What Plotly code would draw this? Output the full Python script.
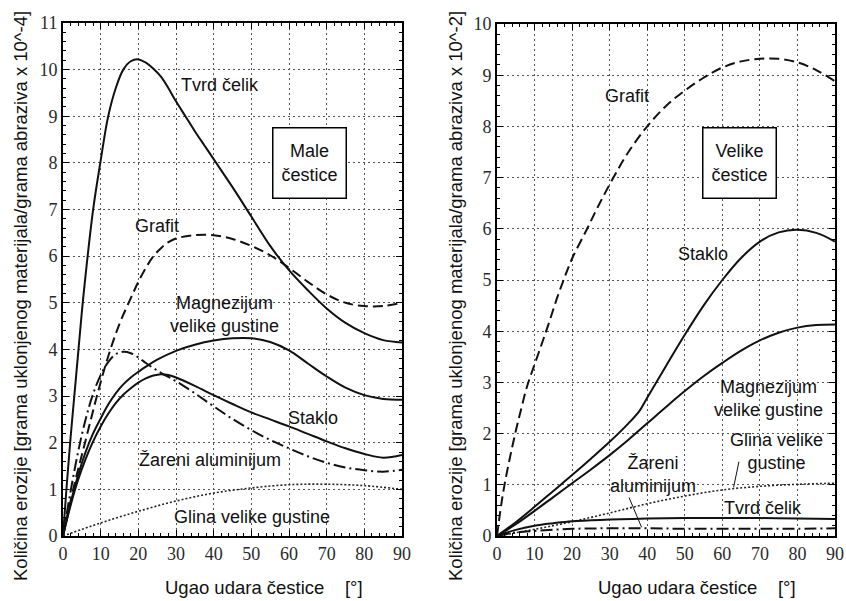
import plotly.graph_objects as go

# ---------------- data: left panel (small particles, x 10^-4) ----------------
L_tvrd_x = [0, 1, 2, 3, 4, 5, 6, 8, 10, 12, 14, 16, 18, 20, 22, 24, 26, 28, 30, 32.5, 35, 37.5, 40, 45, 50, 55, 60, 65, 70, 75, 80, 85, 90]
L_tvrd_y = [0, 1.1, 2.1, 3.0, 3.9, 4.8, 5.6, 7.0, 8.05, 9.0, 9.6, 10.0, 10.18, 10.22, 10.15, 10.02, 9.85, 9.6, 9.32, 9.0, 8.68, 8.38, 8.08, 7.48, 6.85, 6.22, 5.7, 5.27, 4.88, 4.57, 4.35, 4.2, 4.15]

L_grafit_x = [0, 3, 6, 9, 12, 15, 18, 20, 22, 24, 26, 28, 30, 35, 40, 45, 50, 55, 60, 65, 70, 75, 80, 85, 90]
L_grafit_y = [0, 1.1, 2.05, 3.0, 3.85, 4.55, 5.1, 5.45, 5.75, 6.0, 6.17, 6.3, 6.38, 6.45, 6.45, 6.37, 6.22, 6.02, 5.75, 5.45, 5.18, 5.0, 4.93, 4.93, 5.0]

L_mag_x = [0, 2, 4, 6, 8, 10, 12, 14, 16, 18, 20, 22, 25, 30, 35, 40, 45, 50, 55, 60, 65, 70, 75, 80, 85, 90]
L_mag_y = [0, 0.7, 1.3, 1.8, 2.2, 2.52, 2.82, 3.06, 3.25, 3.4, 3.52, 3.63, 3.78, 3.97, 4.1, 4.19, 4.24, 4.24, 4.16, 3.98, 3.7, 3.42, 3.18, 3.02, 2.94, 2.92]

L_staklo_x = [0, 2, 4, 6, 8, 10, 12, 14, 16, 18, 20, 22, 24, 26, 28, 30, 35, 40, 45, 50, 55, 60, 65, 70, 75, 80, 85, 90]
L_staklo_y = [0, 0.65, 1.2, 1.65, 2.03, 2.35, 2.62, 2.85, 3.03, 3.17, 3.29, 3.38, 3.44, 3.47, 3.45, 3.4, 3.22, 3.02, 2.83, 2.65, 2.5, 2.35, 2.19, 2.03, 1.88, 1.76, 1.68, 1.74]

L_alu_x = [0, 2, 4, 6, 8, 10, 12, 14, 16, 18, 20, 22, 24, 26, 28, 30, 35, 40, 45, 50, 55, 60, 65, 70, 75, 80, 85, 90]
L_alu_y = [0, 0.95, 1.8, 2.5, 3.05, 3.45, 3.73, 3.9, 3.95, 3.92, 3.83, 3.71, 3.6, 3.5, 3.41, 3.32, 3.06, 2.78, 2.51, 2.27, 2.06, 1.88, 1.71, 1.57, 1.47, 1.41, 1.38, 1.42]

L_glina_x = [0, 10, 20, 30, 40, 50, 60, 70, 80, 90]
L_glina_y = [0, 0.28, 0.53, 0.75, 0.92, 1.03, 1.1, 1.11, 1.08, 1.0]

# ---------------- data: right panel (large particles, x 10^-2) ----------------
R_grafit_x = [0, 1, 2, 3.5, 5, 6.5, 8, 10, 12, 14, 16, 18, 20, 24, 27, 31, 35, 40, 45, 50, 55, 60, 65, 70, 75, 80, 85, 90]
R_grafit_y = [0, 0.55, 1.0, 1.55, 2.05, 2.5, 2.92, 3.35, 3.77, 4.2, 4.65, 5.05, 5.42, 6.0, 6.45, 7.0, 7.5, 8.0, 8.4, 8.7, 8.95, 9.15, 9.27, 9.32, 9.32, 9.25, 9.1, 8.88]

R_staklo_x = [0, 5, 10, 15, 20, 25, 30, 35, 38, 40, 45, 50, 55, 60, 65, 70, 75, 80, 85, 90]
R_staklo_y = [0, 0.27, 0.57, 0.88, 1.19, 1.51, 1.84, 2.2, 2.45, 2.7, 3.32, 3.93, 4.5, 5.0, 5.43, 5.75, 5.93, 5.98, 5.92, 5.75]

R_mag_x = [0, 5, 10, 15, 20, 25, 30, 35, 40, 45, 50, 55, 60, 65, 70, 75, 80, 85, 90]
R_mag_y = [0, 0.23, 0.49, 0.76, 1.03, 1.3, 1.58, 1.88, 2.2, 2.52, 2.83, 3.12, 3.38, 3.62, 3.82, 3.97, 4.07, 4.12, 4.13]

R_glina_x = [0, 10, 20, 30, 40, 50, 60, 70, 80, 90]
R_glina_y = [0, 0.13, 0.28, 0.45, 0.63, 0.78, 0.9, 0.97, 1.01, 1.03]

R_tvrd_x = [0, 5, 10, 15, 20, 30, 40, 50, 60, 70, 80, 90]
R_tvrd_y = [0, 0.12, 0.2, 0.25, 0.29, 0.32, 0.34, 0.35, 0.35, 0.35, 0.34, 0.33]

R_alu_x = [0, 5, 10, 20, 30, 40, 50, 60, 70, 80, 90]
R_alu_y = [0, 0.07, 0.1, 0.14, 0.15, 0.15, 0.14, 0.14, 0.14, 0.14, 0.15]

x_ticks = [0, 10, 20, 30, 40, 50, 60, 70, 80, 90]
L_y_ticks = list(range(0, 12))
R_y_ticks = list(range(0, 11))

x_title = "Ugao udara čestice\u00a0\u00a0\u00a0\u00a0[°]"
L_y_title = "Količina erozije [grama uklonjenog materijala/grama abraziva x 10^-4]"
R_y_title = "Količina erozije [grama uklonjenog materijala/grama abraziva x 10^-2]"

# ---------------- styles ----------------
INK = "#111111"
SOLID = dict(color=INK, width=2)
DASH = dict(color=INK, width=2, dash="10px,5px")
DASHDOT = dict(color=INK, width=2, dash="12px,4px,2px,4px")
DOT = dict(color="#222222", width=1.6, dash="2px,2px")

W, H = 846, 601
fig = go.Figure()


def add(x, y, line, xa, ya):
    fig.add_trace(go.Scatter(x=x, y=y, mode="lines", line=dict(shape="spline", smoothing=1.0, **line),
                             xaxis=xa, yaxis=ya, showlegend=False, hoverinfo="skip"))


add(L_tvrd_x, L_tvrd_y, SOLID, "x", "y")
add(L_grafit_x, L_grafit_y, DASH, "x", "y")
add(L_mag_x, L_mag_y, SOLID, "x", "y")
add(L_staklo_x, L_staklo_y, SOLID, "x", "y")
add(L_alu_x, L_alu_y, DASHDOT, "x", "y")
add(L_glina_x, L_glina_y, DOT, "x", "y")

add(R_grafit_x, R_grafit_y, DASH, "x2", "y2")
add(R_staklo_x, R_staklo_y, SOLID, "x2", "y2")
add(R_mag_x, R_mag_y, SOLID, "x2", "y2")
add(R_glina_x, R_glina_y, DOT, "x2", "y2")
add(R_tvrd_x, R_tvrd_y, SOLID, "x2", "y2")
add(R_alu_x, R_alu_y, DASHDOT, "x2", "y2")

tickfont = dict(family="serif", size=18, color="#2a2a2a")


def xaxis(domain, anchor):
    return dict(domain=domain, anchor=anchor, range=[0, 90], tickvals=x_ticks, tickfont=tickfont,
                showgrid=True, gridcolor="#555555", gridwidth=1, griddash="2px,3px",
                showline=True, linecolor="black", linewidth=2, mirror="allticks",
                ticks="inside", ticklen=6, tickcolor="black", tickwidth=1,
                minor=dict(dtick=2, tick0=0, ticks="inside", ticklen=3, tickcolor="black", showgrid=False),
                zeroline=False, automargin=False, fixedrange=True)


def yaxis(domain, anchor, top, vals):
    return dict(domain=domain, anchor=anchor, range=[0, top], tickvals=vals, tickfont=tickfont,
                showgrid=True, gridcolor="#555555", gridwidth=1, griddash="2px,3px",
                showline=True, linecolor="black", linewidth=2, mirror="allticks",
                ticks="inside", ticklen=6, tickcolor="black", tickwidth=1,
                minor=dict(dtick=0.2, tick0=0, ticks="inside", ticklen=3, tickcolor="black", showgrid=False),
                zeroline=False, automargin=False, fixedrange=True)


fig.update_layout(
    width=W, height=H, autosize=False,
    margin=dict(l=0, r=0, t=0, b=0),
    paper_bgcolor="white", plot_bgcolor="white",
    xaxis=xaxis([63 / W, 402 / W], "y"),
    yaxis=yaxis([1 - 536 / H, 1 - 23 / H], "x", 11, L_y_ticks),
    xaxis2=xaxis([497 / W, 835 / W], "y2"),
    yaxis2=yaxis([1 - 536 / H, 1 - 24 / H], "x2", 10, R_y_ticks),
)

LBL = dict(family="Liberation Sans", size=18, color=INK)
ann = []


def lab(text, x, y, xr, yr, **kw):
    d = dict(text=text, x=x, y=y, xref=xr, yref=yr, showarrow=False, font=LBL, align="center")
    d.update(kw)
    ann.append(d)


# left labels
lab("Tvrd čelik", 41.6, 9.68, "x", "y")
lab("Grafit", 25, 6.65, "x", "y")
lab("Magnezijum<br>velike gustine", 43, 4.74, "x", "y")
lab("Staklo", 66.4, 2.53, "x", "y")
lab("Žareni aluminijum", 39, 1.63, "x", "y")
lab("Glina velike gustine", 50.2, 0.41, "x", "y")
lab("Male<br>čestice", 65.4, 8.0, "x", "y", bordercolor="black", borderwidth=1.5,
    bgcolor="white", width=72, height=69, borderpad=0)

# right labels
lab("Grafit", 34.7, 8.6, "x2", "y2")
lab("Velike<br>čestice", 64.7, 7.29, "x2", "y2", bordercolor="black", borderwidth=1.5,
    bgcolor="white", width=72, height=69, borderpad=0)
lab("Staklo", 54.9, 5.5, "x2", "y2")
lab("Magnezijum<br>velike gustine", 72.2, 2.68, "x2", "y2")
lab("Glina velike<br>gustine", 74.5, 1.66, "x2", "y2")
lab("Žareni<br>aluminijum", 41.6, 1.2, "x2", "y2")
lab("Tvrd čelik", 70.9, 0.54, "x2", "y2")

# leader lines (right panel)
ann.append(dict(x=38.5, y=0.17, xref="x2", yref="y2", ax=35, ay=0.78, axref="x2", ayref="y2",
                text="", showarrow=True, arrowhead=0, arrowwidth=1, arrowcolor=INK))
ann.append(dict(x=63, y=0.95, xref="x2", yref="y2", ax=64.5, ay=1.48, axref="x2", ayref="y2",
                text="", showarrow=True, arrowhead=0, arrowwidth=1, arrowcolor=INK))

# axis titles
TTL = dict(family="Liberation Sans", size=18.5, color=INK)
ann.append(dict(text=x_title, x=264 / W, y=1 - 587 / H, xref="paper", yref="paper",
                showarrow=False, font=TTL, xanchor="center", yanchor="middle"))
ann.append(dict(text=x_title, x=697 / W, y=1 - 587 / H, xref="paper", yref="paper",
                showarrow=False, font=TTL, xanchor="center", yanchor="middle"))
ann.append(dict(text=L_y_title, x=20 / W, y=1 - 296 / H, xref="paper", yref="paper",
                showarrow=False, font=TTL, textangle=-90, xanchor="center", yanchor="middle"))
ann.append(dict(text=R_y_title, x=455 / W, y=1 - 296 / H, xref="paper", yref="paper",
                showarrow=False, font=TTL, textangle=-90, xanchor="center", yanchor="middle"))

fig.update_layout(annotations=ann)
fig.write_html("out.html")
